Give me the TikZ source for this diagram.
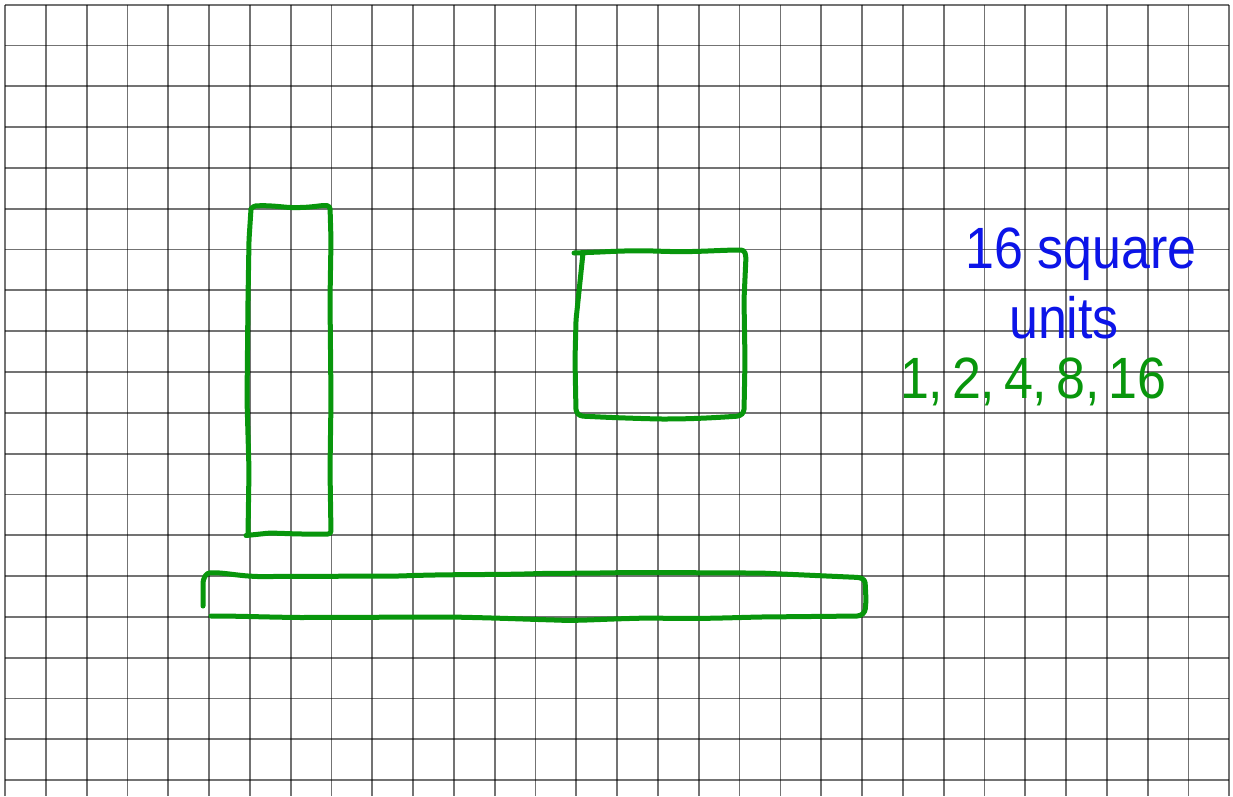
\documentclass[tikz,border=0pt]{standalone}
\usepackage{fontspec}
\setmainfont{Liberation Sans}
\definecolor{pen}{RGB}{8,150,12}
\definecolor{ink}{RGB}{12,20,232}
\tikzset{
  gridline/.style={draw=black, draw opacity=0.55, line width=1.8pt},
  penline/.style={draw=pen, line width=5pt, line cap=round, line join=round, rounded corners=3pt},
  hand/.style={inner sep=0pt, anchor=base, font=\fontsize{52}{60}\selectfont, yscale=1.12}
}
\begin{document}
\begin{tikzpicture}[x=1pt,y=-1pt]
\useasboundingbox (0,0) rectangle (1233,796);
\fill[white] (0,0) rectangle (1233,796);
% grid
\foreach \k in {0,...,30}{
  \draw[gridline] ({5+40.81*\k},4.7) -- ({5+40.81*\k},796);
}
\foreach \k in {0,...,19}{
  \draw[gridline] (5,{4.7+40.81*\k}) -- (1229.3,{4.7+40.81*\k});
}
% tall rectangle 2 x 8
\draw[penline] (251,209) -- (253,206) .. controls (275,205) and (285,208) .. (300,207.5) .. controls (315,207) and (322,205) .. (330,206)
  -- (331,240) -- (330,300) -- (331,400) -- (330,470) -- (331,534) -- (300,534) -- (270,533) -- (246,535.5);
\draw[penline] (248,534) -- (249,470) -- (247,400) -- (248,300) -- (249,240) -- (251,209);
% square 4 x 4
\draw[penline] (574,253) -- (600,252) .. controls (640,250) and (650,251) .. (670,251.5) .. controls (700,252) and (720,250) .. (744,250)
  -- (746,256) -- (744,300) -- (745,360) -- (744,412) -- (740,416) .. controls (710,418) and (690,419) .. (660,419) .. controls (620,418) and (600,417) .. (580,416) -- (576,412) -- (575,360) -- (576,320) -- (583,253);
% long rectangle 16 x 1
\draw[penline] (203,606) -- (203,580) -- (207,573) .. controls (225,572) and (240,577) .. (270,576.5) -- (400,576) .. controls (450,574) and (500,575) .. (540,573.5) -- (600,573) .. controls (650,572) and (700,573) .. (760,573) -- (860,577.5) -- (865,580) -- (866,600) -- (865,612) -- (860,616) -- (760,617) .. controls (720,618) and (700,619) .. (650,618) .. controls (600,619) and (580,621) .. (555,620) .. controls (520,619) and (500,618) .. (450,617) -- (300,617.5) .. controls (260,617) and (240,616) .. (211,616);
% texts
\node[hand, text=ink] (t1) at (1081,268) {16 square};
\node[hand, text=ink] (t2) at (1064,338) {units};
\node[hand, text=pen] (t3) at (1033,398) {1,\,2,\,4,\,8,\,16};
\end{tikzpicture}
\end{document}
